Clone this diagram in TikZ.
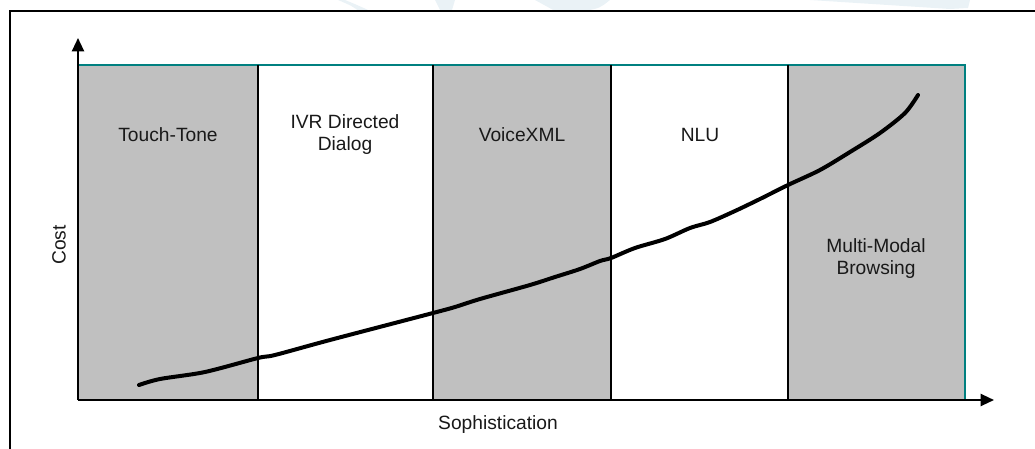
\documentclass[tikz,border=0pt]{standalone}
\usepackage{fontspec}
\setmainfont{Liberation Sans}
\usetikzlibrary{arrows.meta}
\definecolor{band}{HTML}{C0C0C0}
\definecolor{edge}{HTML}{008080}
\definecolor{wash}{HTML}{EAF2F6}

\begin{document}
\begin{tikzpicture}[x=0.75pt,y=-0.75pt,
  font=\fontsize{14.4}{16.5}\selectfont,
  shade/.style={fill=band},
  sep/.style={draw=black,line width=1.5pt},
  rim/.style={draw=edge,line width=1.3pt},
  axis/.style={line width=1.6pt,-{Triangle[length=10pt,width=9pt]}},
  lbl/.style={align=center,text=black!90,inner sep=0pt},
  trend/.style={line width=3pt,line cap=round,line join=round}]
\useasboundingbox (0,0) rectangle (1035,449);
% faint marks above the frame
\fill[wash] (345,0) .. controls (360,6) and (368,10) .. (372,12) -- (360,12) .. controls (352,6) .. (338,0) -- cycle;
\fill[wash] (435,0) -- (455,0) -- (452,10) -- (440,10) -- cycle;
\fill[wash] (535,0) -- (610,0) .. controls (600,8) .. (585,11) -- (555,11) .. controls (545,6) .. cycle;
\fill[wash] (810,0) -- (970,0) -- (968,8) -- (950,9) -- cycle;
% outer frame
\draw[line width=2pt] (10,449) -- (10,11) -- (1035,11);
% stages
\coordinate (o) at (78,400);
\fill[shade] (78,65) rectangle (258,400);
\fill[shade] (433,65) rectangle (611,400);
\fill[shade] (788,65) rectangle (965,400);
\draw[rim] (78,65) -- (965,65) -- (965,400);
\foreach \xs in {258,433,611,788}
  \draw[sep] (\xs,65) -- (\xs,400);
\node[lbl] (tt) at (168,135) {Touch-Tone};
\node[lbl] (ivr) at (345,135) {IVR Directed\\Dialog};
\node[lbl] (vxml) at (522,135) {VoiceXML};
\node[lbl] (nlu) at (700,135) {NLU};
\node[lbl] (mmb) at (876,259) {Multi-Modal\\Browsing};
% axes
\coordinate (ytop) at (78,38);
\coordinate (xend) at (994,400);
\draw[axis] (o) -- (ytop);
\draw[axis] (o) -- (xend);
\node[lbl,rotate=90] (cost) at (59,245) {Cost};
\node[lbl] (soph) at (498,425) {Sophistication};
% cost curve
\draw[trend] plot[smooth,tension=0.5] coordinates {
  (139,385) (160,379) (205,372) (258,358) (275,355) (330,340) (433,313)
  (455,307) (480,299) (530,285) (555,277) (580,269) (600,261) (611,258)
  (635,248) (665,239) (690,228) (710,222) (735,211) (760,199) (788,185)
  (820,170) (850,152) (880,133) (905,113) (918,95)};
\end{tikzpicture}
\end{document}
